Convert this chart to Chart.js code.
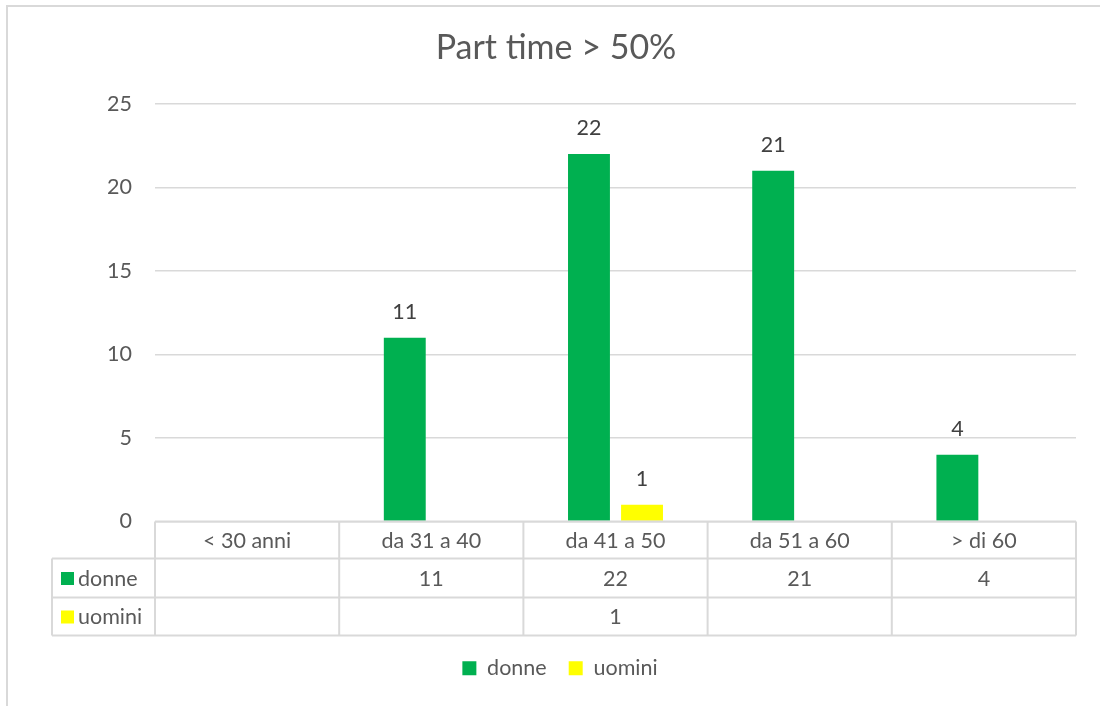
<!DOCTYPE html>
<html>
<head>
<meta charset="utf-8">
<script src="https://cdn.jsdelivr.net/npm/chart.js@4.4.1/dist/chart.umd.min.js"></script>
<style>
  html, body { margin: 0; padding: 0; background: #ffffff; }
  #wrap { width: 1100px; height: 706px; }
</style>
</head>
<body>
<div id="wrap"><canvas id="c" width="1100" height="706"></canvas></div>
<script>
// Age bands and part-time counts by gender
const categories = ['< 30 anni', 'da 31 a 40', 'da 41 a 50', 'da 51 a 60', '> di 60'];
const donne = [null, 11, 22, 21, 4];
const uomini = [null, null, 1, null, null];
const seriesNames = ['donne', 'uomini'];
const seriesColors = ['#00B050', '#FFFF00'];
const yTicks = [0, 5, 10, 15, 20, 25];

const FONT = 'Lato, "Open Sans", sans-serif';
const TEXT = '#595959';
const LINE = '#d9d9d9';
const TXT_SIZE = 21.5;

// Outer frame and white background
const framePlugin = {
  id: 'frame',
  beforeDraw(chart) {
    const ctx = chart.ctx;
    ctx.save();
    ctx.fillStyle = '#ffffff';
    ctx.fillRect(0, 0, chart.width, chart.height);
    ctx.strokeStyle = LINE;
    ctx.lineWidth = 2;
    ctx.beginPath();
    ctx.moveTo(7, chart.height);
    ctx.lineTo(7, 6);
    ctx.lineTo(chart.width, 6);
    ctx.stroke();
    ctx.restore();
  }
};

// Nudge title and legend to sit centred over the table area
const centreShift = {
  id: 'centreShift',
  afterLayout(chart) {
    const shift = (box, dx) => { if (box) { box.left += dx; box.right += dx; } };
    shift(chart.titleBlock, 13);
    shift(chart.legend, 17);
  }
};

// Value labels above each bar
const valueLabels = {
  id: 'valueLabels',
  afterDatasetsDraw(chart) {
    const ctx = chart.ctx;
    ctx.save();
    ctx.font = TXT_SIZE + 'px ' + FONT;
    ctx.fillStyle = '#404040';
    ctx.textAlign = 'center';
    ctx.textBaseline = 'middle';
    chart.data.datasets.forEach((ds, di) => {
      const meta = chart.getDatasetMeta(di);
      meta.data.forEach((bar, i) => {
        const v = ds.data[i];
        if (v === null || v === undefined) return;
        ctx.fillText(String(v), bar.x, bar.y - 26);
      });
    });
    ctx.restore();
  }
};

// Data table under the plot: category header plus one row per series
const dataTable = {
  id: 'dataTable',
  afterDraw(chart) {
    const ctx = chart.ctx;
    const area = chart.chartArea;
    const xs = chart.scales.x;
    const n = categories.length;
    const cw = (area.right - area.left) / n;
    const rowTops = [area.bottom, area.bottom + 37, area.bottom + 76, area.bottom + 114];
    const tableLeft = 52;
    ctx.save();
    ctx.strokeStyle = LINE;
    ctx.lineWidth = 2;
    ctx.beginPath();
    ctx.moveTo(area.left, rowTops[0]);
    ctx.lineTo(area.right, rowTops[0]);
    for (let r = 1; r < rowTops.length; r++) {
      ctx.moveTo(tableLeft, rowTops[r]);
      ctx.lineTo(area.right, rowTops[r]);
    }
    ctx.moveTo(tableLeft, rowTops[1]);
    ctx.lineTo(tableLeft, rowTops[3]);
    for (let i = 0; i <= n; i++) {
      const x = area.left + i * cw;
      ctx.moveTo(x, rowTops[0]);
      ctx.lineTo(x, rowTops[3]);
    }
    ctx.stroke();

    ctx.font = TXT_SIZE + 'px ' + FONT;
    ctx.fillStyle = TEXT;
    ctx.textAlign = 'center';
    ctx.textBaseline = 'middle';
    categories.forEach((c, i) => {
      ctx.fillText(c, xs.getPixelForValue(i), (rowTops[0] + rowTops[1]) / 2 + 1);
    });
    const rows = [donne, uomini];
    rows.forEach((vals, r) => {
      const yMid = (rowTops[r + 1] + rowTops[r + 2]) / 2 + 1;
      ctx.fillStyle = seriesColors[r];
      ctx.fillRect(61, yMid - 7, 13, 13);
      ctx.fillStyle = TEXT;
      ctx.textAlign = 'left';
      ctx.fillText(seriesNames[r], 78, yMid);
      ctx.textAlign = 'center';
      vals.forEach((v, i) => {
        if (v === null || v === undefined) return;
        ctx.fillText(String(v), xs.getPixelForValue(i), yMid);
      });
    });
    ctx.restore();
  }
};

new Chart(document.getElementById('c'), {
  type: 'bar',
  data: {
    labels: categories,
    datasets: [
      { label: seriesNames[0], data: donne, backgroundColor: seriesColors[0] },
      { label: seriesNames[1], data: uomini, backgroundColor: seriesColors[1] }
    ]
  },
  options: {
    responsive: false,
    animation: false,
    categoryPercentage: 0.576,
    barPercentage: 0.79,
    layout: { padding: { left: 10, right: 24, top: 0, bottom: 17 } },
    plugins: {
      title: {
        display: true,
        text: 'Part time > 50%',
        color: TEXT,
        font: { family: FONT, size: 34, weight: 'normal' },
        padding: { top: 28, bottom: 35 }
      },
      legend: {
        position: 'bottom',
        labels: {
          color: TEXT,
          font: { family: FONT, size: TXT_SIZE },
          boxWidth: 14,
          boxHeight: 14,
          padding: 22
        }
      },
      tooltip: { enabled: false }
    },
    scales: {
      x: {
        grid: { display: false },
        border: { display: false },
        ticks: { display: false },
        afterFit(scale) { scale.height = 114; }
      },
      y: {
        min: 0,
        max: 25,
        afterBuildTicks(scale) { scale.ticks = yTicks.map(v => ({ value: v })); },
        afterFit(scale) { scale.width = 145; },
        grid: { color: LINE, lineWidth: 1.5, drawTicks: false },
        border: { display: false },
        ticks: {
          color: TEXT,
          font: { family: FONT, size: TXT_SIZE },
          padding: 23
        }
      }
    }
  },
  plugins: [framePlugin, centreShift, valueLabels, dataTable]
});
</script>
</body>
</html>
